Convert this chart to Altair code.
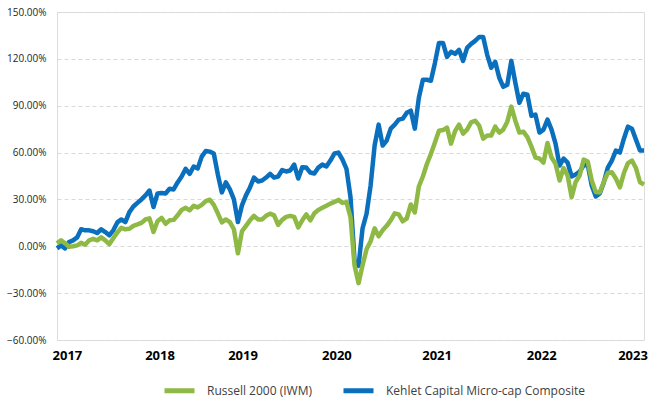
import altair as alt
import pandas as pd

# Cumulative return (%) of each series, sampled roughly every two weeks
series_names = ["Russell 2000 (IWM)", "Kehlet Capital Micro-cap Composite"]

russell = [
    1.9, 3.8, 1.9, -0.3, 0.0, 0.6, 2.2, 1.0, 3.8, 4.8,
    3.8, 5.7, 3.8, 1.3, 5.1, 8.9, 11.8, 10.9, 11.2, 13.1,
    14.0, 15.0, 17.2, 17.9, 9.1, 16.0, 18.2, 14.4, 16.6, 16.9,
    19.8, 23.3, 24.6, 23.0, 25.9, 24.9, 26.5, 28.9, 29.8, 26.5,
    21.1, 15.3, 17.2, 15.5, 10.9, -4.5, 9.6, 13.1, 16.6, 19.5,
    17.2, 17.2, 19.5, 20.9, 19.8, 13.7, 16.9, 18.8, 19.5, 18.8,
    12.1, 16.6, 20.4, 16.6, 21.1, 23.3, 24.6, 25.9, 27.3, 28.4,
    29.7, 27.8, 28.3, 18.7, -12.1, -23.6, -12.1, -1.9, 3.2, 11.5,
    6.4, 10.2, 13.1, 16.6, 21.1, 20.4, 16.0, 17.9, 26.8, 21.7,
    38.3, 44.7, 52.7, 59.2, 66.4, 74.0, 74.4, 76.0, 65.7, 73.7,
    77.9, 72.1, 74.7, 79.3, 80.4, 77.2, 68.9, 70.9, 70.9, 76.6,
    72.8, 74.7, 79.8, 89.4, 80.4, 72.8, 73.4, 69.9, 63.8, 56.8,
    56.2, 53.6, 66.1, 56.8, 52.8, 42.1, 50.1, 45.3, 31.5, 41.2,
    45.3, 55.5, 54.3, 42.1, 34.8, 34.5, 41.2, 46.9, 47.4, 43.4,
    37.7, 46.9, 53.3, 54.9, 50.1, 41.0, 39.6,
]

kehlet = [
    -1.3, 0.6, -1.3, 2.7, 3.8, 5.7, 10.9, 10.2, 10.2, 9.6,
    8.5, 10.9, 9.1, 7.0, 10.2, 15.3, 17.2, 15.5, 21.9, 25.5,
    27.8, 30.0, 32.6, 35.7, 25.1, 33.8, 34.1, 33.8, 36.8, 36.4,
    40.9, 44.7, 49.6, 46.4, 51.1, 49.8, 57.4, 61.0, 60.6, 59.4,
    46.0, 34.5, 40.9, 36.4, 30.0, 15.5, 26.2, 32.6, 37.7, 44.0,
    41.5, 42.1, 44.0, 46.4, 44.0, 44.7, 48.8, 47.9, 48.5, 52.3,
    43.4, 50.6, 50.4, 47.2, 46.6, 50.4, 52.3, 51.1, 54.9, 59.4,
    60.0, 55.5, 49.6, 31.5, -9.0, -12.5, 11.5, 20.9, 38.9, 64.5,
    77.9, 64.5, 67.7, 75.3, 77.9, 81.1, 81.7, 85.5, 86.8, 75.3,
    95.1, 106.6, 106.6, 106.0, 117.4, 130.2, 130.2, 121.3, 124.5, 123.2,
    125.7, 118.7, 127.0, 129.6, 131.5, 134.0, 134.0, 122.6, 114.3, 118.1,
    107.9, 102.1, 103.4, 118.7, 104.7, 91.9, 97.7, 97.0, 83.6, 84.3,
    72.8, 74.7, 81.1, 74.7, 65.7, 51.7, 56.2, 53.6, 44.7, 46.0,
    47.9, 51.7, 52.3, 38.9, 31.9, 33.8, 40.9, 50.4, 54.9, 61.3,
    60.0, 68.9, 76.6, 75.3, 68.3, 61.3, 61.3,
]

start, end = "2017-01-31", "2023-03-31"
dates = pd.date_range(start, end, periods=len(kehlet))

df = pd.concat([
    pd.DataFrame({"date": dates, "series": series_names[0], "value": russell}),
    pd.DataFrame({"date": dates, "series": series_names[1], "value": kehlet}),
])

green = "#8db944"
blue = "#0a6fbd"
font = "Open Sans"

x_enc = alt.X(
    "date:T",
    scale=alt.Scale(domain=[alt.DateTime(year=2017, month=1, date=31),
                            alt.DateTime(year=2023, month=3, date=31)]),
    axis=alt.Axis(
        title=None,
        values=[
            alt.DateTime(year=2017, month=3, date=10),
            alt.DateTime(year=2018, month=2, date=28),
            alt.DateTime(year=2019, month=1, date=12),
            alt.DateTime(year=2020, month=1, date=7),
            alt.DateTime(year=2021, month=1, date=25),
            alt.DateTime(year=2022, month=3, date=2),
            alt.DateTime(year=2023, month=2, date=15),
        ],
        format="%Y",
        grid=False, ticks=False, domain=False,
        labelFont=font, labelFontSize=13, labelFontWeight="bold",
        labelColor="#000000", labelPadding=9, labelOverlap=False,
    ),
)

y_enc = alt.Y(
    "value:Q",
    scale=alt.Scale(domain=[-60, 150], nice=False, zero=False),
    axis=alt.Axis(
        title=None,
        values=list(range(-60, 151, 30)),
        labelExpr="format(datum.value, '.2f') + '%'",
        grid=True, gridDash=[4, 3], gridColor="#d9d9d9",
        ticks=False, domain=False,
        labelFont=font, labelFontSize=10, labelColor="#262626",
        labelPadding=11,
    ),
)

color_enc = alt.Color(
    "series:N",
    scale=alt.Scale(domain=series_names, range=[green, blue]),
    legend=alt.Legend(
        title=None, orient="none", direction="horizontal",
        legendX=105, legendY=361,
        symbolType="stroke", symbolSize=900, symbolStrokeWidth=5,
        labelFont=font, labelFontSize=12, labelColor="#404040",
        labelOffset=10, columnPadding=21, labelLimit=400,
    ),
)

base = alt.Chart(df).encode(x=x_enc, y=y_enc, color=color_enc)

kehlet_line = base.transform_filter(
    alt.datum.series == series_names[1]
).mark_line(strokeWidth=4.5, strokeJoin="round")

russell_line = base.transform_filter(
    alt.datum.series == series_names[0]
).mark_line(strokeWidth=4.5, strokeJoin="round")

chart = alt.layer(kehlet_line, russell_line).properties(
    width=587,
    height=328,
    autosize=alt.AutoSizeParams(type="none"),
    padding={"left": 57, "top": 12, "right": 25, "bottom": 80},
).configure_view(
    stroke="#d9d9d9", strokeWidth=1
).configure(background="white")

chart.save("out.html", embed_options={"renderer": "svg", "actions": False})
